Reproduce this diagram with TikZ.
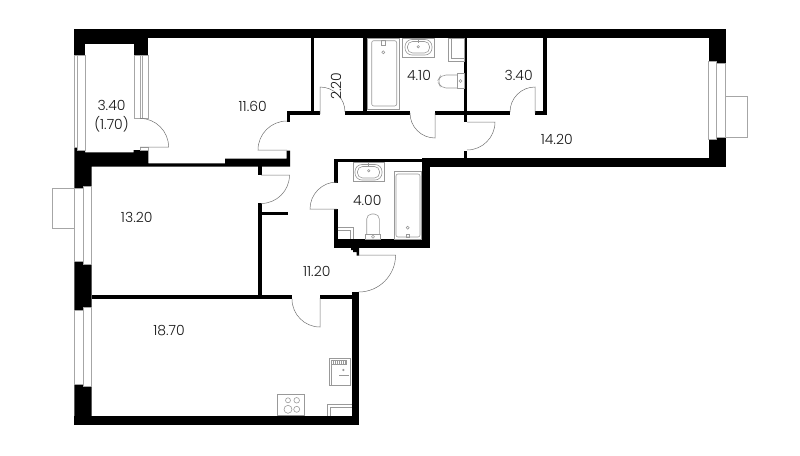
\documentclass[tikz,border=0pt]{standalone}
\usepackage{fontspec}
\setmainfont{Poppins Light}
\tikzset{
  wall/.style={fill=black},
  glass/.style={draw=black!35, line width=0.5pt, fill=white},
  door/.style={draw=black!55, line width=0.5pt},
  fixture/.style={draw=black!40, line width=0.6pt},
  area/.style={font=\fontsize{14}{16}\selectfont, text=black!90, inner sep=0pt, align=center}
}
\begin{document}
\begin{tikzpicture}[x=1pt, y=-1pt]
\useasboundingbox (0,0) rectangle (800,455);

\fill[wall] (74.3,29) rectangle (725.7,38);
\fill[wall] (74.3,29) rectangle (85,55);
\fill[wall] (85,29) rectangle (148.3,44);
\fill[wall] (133.7,38) rectangle (148.3,55);
\fill[wall] (708.7,29) rectangle (725.7,61);
\fill[wall] (716.5,61) rectangle (725.7,63);
\fill[wall] (708.7,139.3) rectangle (725.7,166.5);
\fill[wall] (716.5,137) rectangle (725.7,139.3);
\fill[wall] (422,158.3) rectangle (725.7,166.5);

\fill[wall] (74.3,147) -- (85,147) -- (85,152.3) -- (133.7,152.3) -- (133.7,150) -- (148.3,150) -- (148.3,163.3) -- (225,163.3) -- (225,158.5) -- (286.7,158.5) -- (286.7,150.7) -- (290,150.7) -- (290,166.7) -- (91.7,166.7) -- (91.7,186) -- (83.3,186) -- (83.3,188.3) -- (74.3,188.3) -- cycle;
\fill[wall] (74.3,261.7) -- (83.3,261.7) -- (83.3,264.3) -- (91.7,264.3) -- (91.7,307.7) -- (83.3,307.7) -- (83.3,310.7) -- (74.3,310.7) -- cycle;
\fill[wall] (74.3,384) -- (83.3,384) -- (83.3,386.7) -- (91.7,386.7) -- (91.7,416) -- (74.3,416) -- cycle;
\fill[wall] (74.3,416) rectangle (359,425);
\fill[wall] (351.7,291.7) rectangle (359,425);

\fill[wall] (91.7,295.2) rectangle (292.3,298.6);
\fill[wall] (320,295.2) rectangle (351.7,298.6);
\fill[wall] (258.3,203) rectangle (261.7,296);
\fill[wall] (258.3,166) rectangle (261.7,175);
\fill[wall] (261,212) rectangle (288,215);

\fill[wall] (334.3,158.5) rectangle (422,162.3);
\fill[wall] (334.3,158.5) rectangle (337.6,183.3);
\fill[wall] (334.3,209) rectangle (337.6,248.3);
\fill[wall] (421.7,158.5) rectangle (430.3,248.3);
\fill[wall] (334.3,239.3) rectangle (430.3,248.3);
\fill[wall] (351,248) -- (359,248) -- (359,255.5) -- (356.5,255.5) -- (356.5,252) -- (353,252) -- (353,250) -- (351,250) -- cycle;

\fill[wall] (286.7,111) rectangle (320,115);
\fill[wall] (286.7,111) rectangle (290,122);
\fill[wall] (345,111) rectangle (410,115);
\fill[wall] (435,111) rectangle (510,115);
\fill[wall] (535,111) rectangle (546.7,115);
\fill[wall] (310.7,38) rectangle (314.3,111);
\fill[wall] (363.3,38) rectangle (367,111);
\fill[wall] (464,38) rectangle (467.3,121.7);
\fill[wall] (464,150.7) rectangle (467.3,158.5);
\fill[wall] (543.3,38) rectangle (546.7,112);

\draw[glass] (74.3,55) rectangle (77.5,147);
\draw[glass] (77.5,55) rectangle (85,150);
\draw[glass] (134,55) rectangle (140,118);
\draw[glass] (140,55) rectangle (142.5,118);
\draw[glass] (142.5,55) rectangle (148.3,118);
\draw[glass] (140,147) rectangle (148.3,150);
\draw[glass] (708.7,61) rectangle (716.5,139.3);
\draw[glass] (716.5,63) rectangle (725.7,137);
\draw[glass] (725.7,96.7) rectangle (747.7,137.3);
\draw[glass] (74.3,188.3) rectangle (83.3,261.7);
\draw[glass] (83.3,186) rectangle (91.7,264.3);
\draw[glass] (52.3,188.3) rectangle (74.3,228.3);
\draw[glass] (74.7,310.7) rectangle (83.3,384);
\draw[glass] (83.3,307.7) rectangle (91.7,386.7);

\draw[door] (140,147) -- (168.6,147) arc[start angle=0, end angle=-90, radius=28.6];
\draw[door] (287,150) -- (258,150) arc[start angle=180, end angle=270, radius=29];
\draw[door] (261,175) -- (289.5,175) arc[start angle=0, end angle=90, radius=28.5];
\draw[door] (320,114) -- (320,87) arc[start angle=-90, end angle=0, radius=25];
\draw[door] (435,113) -- (435,138) arc[start angle=90, end angle=180, radius=25];
\draw[door] (535,113) -- (535,87) arc[start angle=-90, end angle=-180, radius=25];
\draw[door] (467,122) -- (495,122) arc[start angle=0, end angle=90, radius=28];
\draw[door] (337,209) -- (310,209) arc[start angle=180, end angle=270, radius=27];
\draw[door] (358,255) -- (395.6,255) arc[start angle=0, end angle=90, radius=37];
\draw[door] (320,298) -- (320,327) arc[start angle=90, end angle=180, radius=28];

\draw[fixture] (367.7,38) rectangle (399,109);
\draw[fixture, rounded corners=2pt] (371.7,40.7) rectangle (396.7,106);
\draw[fixture] (381.7,40.7) rectangle (385,45);
\draw[fixture] (383.3,52.3) circle (1.5);
\draw[fixture] (402.7,38) rectangle (434,57.3);
\draw[fixture, rounded corners=7pt] (405,39.5) rectangle (432,55);
\draw[fixture, rounded corners=5pt] (407.5,41.5) rectangle (429.5,53);
\draw[fixture] (418.3,39) -- (418.3,43);
\draw[fixture] (418.3,46.7) circle (1.2);
\draw[fixture] (448.3,38) rectangle (464,61);
\draw[fixture] (451.7,38) -- (451.7,58) -- (464,58);
\draw[fixture, rounded corners=5pt] (457.7,75) -- (441,75) -- (437.5,81) -- (441,88) -- (457.7,88);
\draw[fixture] (457.7,73.3) rectangle (464,88.3);
\draw[fixture] (460.5,81) circle (1.5);

\draw[fixture] (353.3,162.3) rectangle (384,181.7);
\draw[fixture, rounded corners=7pt] (355,164.5) rectangle (382,180);
\draw[fixture, rounded corners=5pt] (357.5,166.5) rectangle (379.5,178);
\draw[fixture] (368.5,162.5) -- (368.5,167);
\draw[fixture] (368.7,170.7) circle (1.2);
\draw[fixture] (394,171) rectangle (421.7,239.3);
\draw[fixture, rounded corners=2pt] (396,174) rectangle (420,237);
\draw[fixture] (406,234) rectangle (409,237);
\draw[fixture] (407.7,227.7) circle (1.5);
\draw[fixture] (365.7,234.3) rectangle (380,239.3);
\draw[fixture, rounded corners=5pt] (366.7,234.3) -- (366.7,214) -- (379.3,214) -- (379.3,234.3);
\draw[fixture] (373,236.7) circle (1.5);
\draw[fixture] (337.6,227.3) -- (353.3,227.3) -- (353.3,239.3);
\draw[fixture] (337.6,230.7) -- (350,230.7) -- (350,239.3);

\draw[fixture] (329.3,358.3) rectangle (350,385.7);
\draw[fixture] (331,360.3) rectangle (346.7,364.3);
\foreach \vx in {333,335,337,339,341,343,345}
  \draw[fixture, line width=0.4pt] (\vx,360.3) -- (\vx,364.3);
\draw[fixture] (331,364.3) -- (331,385.7);
\draw[fixture] (343.3,370) circle (0.8);
\draw[fixture, line width=1pt] (339,375) -- (349.3,375);
\draw[fixture] (277.3,394.3) rectangle (304.3,415.3);
\draw[fixture] (288,400.3) circle (2.5);
\draw[fixture] (296.7,400.3) circle (2.8);
\draw[fixture] (288,409.3) circle (4);
\draw[fixture] (296.7,409.3) circle (3);
\draw[fixture] (327.3,416) -- (327.3,404.3) -- (351.7,404.3);
\draw[fixture] (330.3,416) -- (330.3,407.3) -- (351.7,407.3);

\node[area] (balcony) at (111.5,116) {3.40\\[3pt](1.70)};
\node[area] (bedroomtop) at (252.7,106.7) {11.60};
\node[area, rotate=90] (closet) at (336,86) {2.20};
\node[area] (bathtop) at (419,75) {4.10};
\node[area] (wardrobe) at (518.7,75) {3.40};
\node[area] (bedroomright) at (556.7,139) {14.20};
\node[area] (bedroomleft) at (136.7,217.3) {13.20};
\node[area] (bathlow) at (367.3,200) {4.00};
\node[area] (hall) at (316.7,271.7) {11.20};
\node[area] (kitchen) at (169,330.7) {18.70};
\end{tikzpicture}
\end{document}
